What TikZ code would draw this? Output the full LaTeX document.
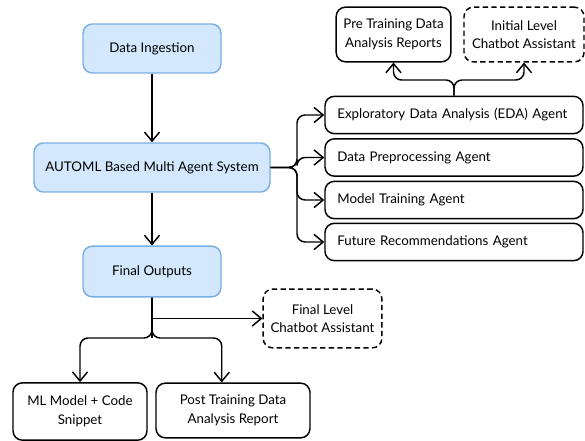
\documentclass[tikz,border=0pt]{standalone}
\usepackage{fontspec}
\setmainfont{Lato}
\usepackage{xcolor}
\usetikzlibrary{arrows.meta,calc}

\definecolor{stageFill}{RGB}{211,232,252}
\definecolor{stageLine}{RGB}{122,176,228}

\begin{document}
\begin{tikzpicture}[
  x=0.75pt,y=-0.75pt,
  base/.style={rounded corners=7pt,align=center,inner sep=2pt,
               font=\fontsize{10}{14}\selectfont},
  stage/.style={base,draw=stageLine,fill=stageFill,line width=1.1pt},
  agent/.style={base,draw=black,line width=1.1pt,minimum width=193.5pt,
                minimum height=28pt,text width=175pt,align=left,inner xsep=9pt},
  report/.style={base,draw=black,line width=1.1pt},
  chatbot/.style={report,dashed,dash pattern=on 4pt off 2.5pt},
  link/.style={line width=1.1pt,draw=black,rounded corners=6pt},
  arr/.style={link,-{Straight Barb[length=2.4mm,width=4mm]}}]

  \useasboundingbox (0,0) rectangle (585,441);

  % main pipeline
  \node[stage,minimum width=103.5pt,minimum height=36.75pt] (ingest) at (152,48.5)
       {Data Ingestion};
  \node[stage,minimum width=177pt,minimum height=36.75pt] (automl) at (152,167.5)
       {AUTOML Based Multi Agent System};
  \node[stage,minimum width=103.5pt,minimum height=38pt] (outputs) at (152,271.5)
       {Final Outputs};

  % agents
  \node[agent] (eda)    at (454,115) {Exploratory Data Analysis (EDA) Agent};
  \node[agent] (prep)   at (454,157.5) {Data Preprocessing Agent};
  \node[agent] (train)  at (454,200) {Model Training Agent};
  \node[agent] (future) at (454,242) {Future Recommendations Agent};

  % reports and chatbots
  \node[report,minimum width=86pt,minimum height=41pt] (prereport) at (393.5,34.5)
       {Pre Training Data\\Analysis Reports};
  \node[chatbot,minimum width=90pt,minimum height=41pt] (initbot) at (524,34.5)
       {Initial Level\\Chatbot Assistant};
  \node[chatbot,minimum width=89pt,minimum height=44pt] (finalbot) at (322.5,318.5)
       {Final Level\\Chatbot Assistant};
  \node[report,minimum width=100.5pt,minimum height=43pt] (mlmodel) at (80,411.5)
       {ML Model + Code\\Snippet};
  \node[report,minimum width=115.5pt,minimum height=41pt] (postreport) at (233,410.5)
       {Post Training Data\\Analysis Report};

  \coordinate (bus) at (297,167.5);
  \coordinate (edasplit) at (454,80);
  \coordinate (outsplit) at (152,338);

  \draw[arr] (ingest) -- (automl);
  \draw[arr] (automl) -- (outputs);

  \foreach \ag in {eda,prep,train,future}
    \draw[arr] (automl.east) -- (bus) |- (\ag.west);

  \draw[arr] (eda.north) -- (edasplit) -| (prereport.south);
  \draw[arr] (eda.north) -- (edasplit) -| (initbot.south);

  \draw[link] (outputs.south) -- (outsplit);
  \draw[arr] (finalbot.west -| outputs.south) -- (finalbot.west);
  \draw[arr] (outputs.south) -- (outsplit) -| (mlmodel.north);
  \draw[arr] (outputs.south) -- (outsplit) -| (outputs.east |- postreport.north);
\end{tikzpicture}
\end{document}
